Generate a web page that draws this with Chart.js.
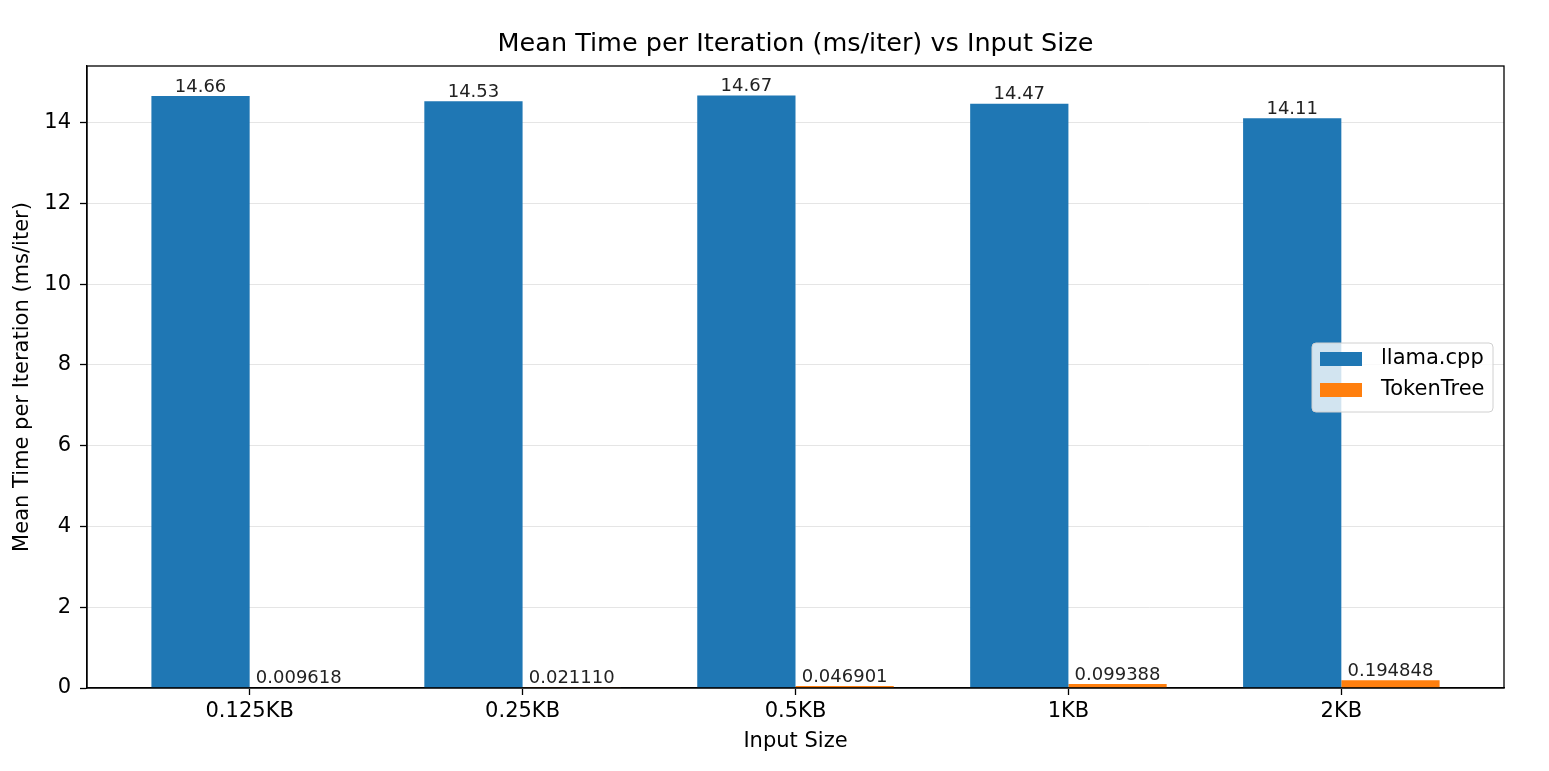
<!DOCTYPE html>
<html>
<head>
<meta charset="utf-8">
<script src="https://cdn.jsdelivr.net/npm/chart.js@4/dist/chart.umd.min.js"></script>
<style>
  html, body { margin: 0; padding: 0; background: #ffffff; }
  #wrap { width: 1549px; height: 771px; position: relative; }
</style>
</head>
<body>
<div id="wrap"><canvas id="c" width="1549" height="771"></canvas></div>
<script>
const categories = ["0.125KB", "0.25KB", "0.5KB", "1KB", "2KB"];
const llamaValues = [14.66, 14.53, 14.67, 14.47, 14.11];
const tokenTreeValues = [0.009618, 0.021110, 0.046901, 0.099388, 0.194848];
const llamaLabels = ["14.66", "14.53", "14.67", "14.47", "14.11"];
const tokenTreeLabels = ["0.009618", "0.021110", "0.046901", "0.099388", "0.194848"];
const yTicks = [0, 2, 4, 6, 8, 10, 12, 14];
const seriesNames = ["llama.cpp", "TokenTree"];

const BLUE = "#1f77b4";
const ORANGE = "#ff7f0e";
const FONT = "'DejaVu Sans', sans-serif";
const BAR_W = 0.36;
const yMax = Math.max(...llamaValues) * 1.05;
const xMin = -BAR_W - (categories.length - 1 + 2 * BAR_W) * 0.05;
const xMax = categories.length - 1 + BAR_W + (categories.length - 1 + 2 * BAR_W) * 0.05;

const decorPlugin = {
  id: 'decor',
  afterDatasetsDraw(chart) {
    const ctx = chart.ctx;
    const labelSets = [llamaLabels, tokenTreeLabels];
    ctx.save();
    ctx.fillStyle = '#222';
    ctx.font = "18px " + FONT;
    ctx.textAlign = 'center';
    ctx.textBaseline = 'bottom';
    chart.data.datasets.forEach((ds, di) => {
      const meta = chart.getDatasetMeta(di);
      meta.data.forEach((bar, i) => {
        ctx.fillText(labelSets[di][i], bar.x, bar.y);
      });
    });
    ctx.restore();
  },
  afterDraw(chart) {
    const ctx = chart.ctx;
    const ca = chart.chartArea;
    ctx.save();
    // frame
    ctx.strokeStyle = '#000';
    ctx.lineWidth = 1.3;
    ctx.strokeRect(ca.left, ca.top, ca.right - ca.left, ca.bottom - ca.top);
    // title
    ctx.fillStyle = '#000';
    ctx.textAlign = 'center';
    ctx.textBaseline = 'middle';
    ctx.font = "25.5px " + FONT;
    ctx.fillText("Mean Time per Iteration (ms/iter) vs Input Size", (ca.left + ca.right) / 2, 44);
    // x title
    ctx.font = "21px " + FONT;
    ctx.fillText("Input Size", (ca.left + ca.right) / 2, 742);
    // y title
    ctx.save();
    ctx.translate(23, (ca.top + ca.bottom) / 2);
    ctx.rotate(-Math.PI / 2);
    ctx.fillText("Mean Time per Iteration (ms/iter)", 0, 0);
    ctx.restore();
    // legend
    const lx = ca.right - 192, ly = 343, lw = 181, lh = 69;
    ctx.beginPath();
    ctx.roundRect(lx, ly, lw, lh, 4);
    ctx.fillStyle = 'rgba(255,255,255,0.8)';
    ctx.fill();
    ctx.strokeStyle = '#d0d0d0';
    ctx.lineWidth = 1;
    ctx.stroke();
    const colors = [BLUE, ORANGE];
    ctx.textAlign = 'left';
    ctx.font = "21px " + FONT;
    seriesNames.forEach((n, i) => {
      const yy = ly + 9 + i * 31;
      ctx.fillStyle = colors[i];
      ctx.fillRect(lx + 8, yy, 42, 14);
      ctx.fillStyle = '#000';
      ctx.fillText(n, lx + 69, yy + 7);
    });
    ctx.restore();
  }
};

new Chart(document.getElementById('c'), {
  type: 'bar',
  data: {
    datasets: [
      { label: seriesNames[0], data: llamaValues.map((v, i) => ({ x: i, y: v })), backgroundColor: BLUE, borderWidth: 0 },
      { label: seriesNames[1], data: tokenTreeValues.map((v, i) => ({ x: i, y: v })), backgroundColor: ORANGE, borderWidth: 0 }
    ]
  },
  options: {
    responsive: false,
    animation: false,
    devicePixelRatio: 1,
    categoryPercentage: BAR_W * 2,
    barPercentage: 1.0,
    layout: { padding: { top: 66, right: 45, left: 0, bottom: 0 } },
    plugins: { legend: { display: false }, title: { display: false }, tooltip: { enabled: false } },
    scales: {
      x: {
        type: 'linear',
        min: xMin,
        max: xMax,
        offset: false,
        afterBuildTicks: (axis) => { axis.ticks = categories.map((_, i) => ({ value: i })); },
        afterFit: (s) => { s.height = 83; },
        ticks: {
          callback: (v) => categories[Math.round(v)],
          color: '#000',
          font: { family: FONT, size: 21 },
          padding: 4,
          maxRotation: 0,
          autoSkip: false
        },
        grid: { offset: false, drawOnChartArea: false, tickLength: 7, tickColor: '#000', tickWidth: 1.3 },
        border: { color: '#000', width: 1.3 }
      },
      y: {
        min: 0,
        max: yMax,
        afterBuildTicks: (axis) => { axis.ticks = yTicks.map(v => ({ value: v })); },
        afterFit: (s) => { s.width = 87; },
        ticks: {
          color: '#000',
          font: { family: FONT, size: 21 },
          padding: 9
        },
        grid: { offset: false, color: '#e5e5e5', lineWidth: 1, tickLength: 7, tickColor: '#000', tickWidth: 1.3 },
        border: { color: '#000', width: 1.3 }
      }
    }
  },
  plugins: [decorPlugin]
});
</script>
</body>
</html>
